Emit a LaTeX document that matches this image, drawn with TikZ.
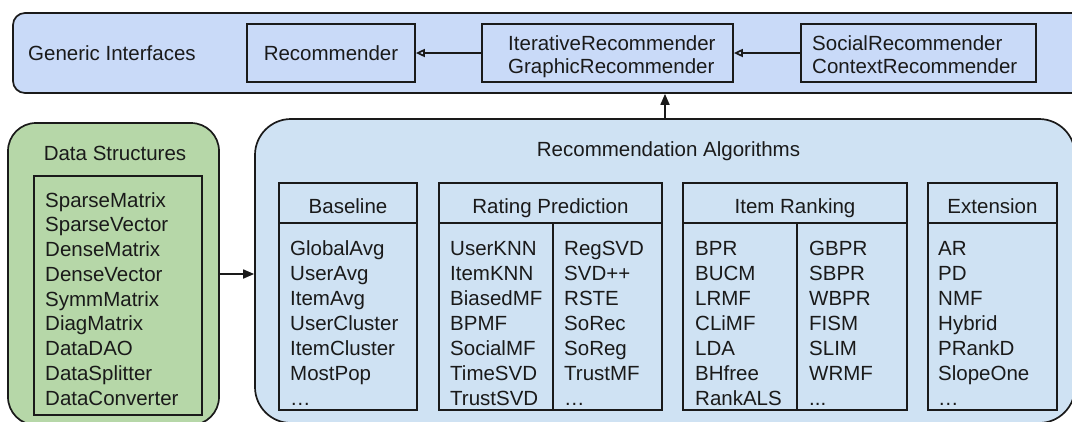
\documentclass[tikz,border=0pt]{standalone}
\usepackage{fontspec}
\setmainfont{Liberation Sans}
\usetikzlibrary{arrows.meta,calc}
\definecolor{gibg}{HTML}{C9DAF8}
\definecolor{rabg}{HTML}{CFE2F3}
\definecolor{dsbg}{HTML}{B6D7A8}
\definecolor{ink}{HTML}{1A1A1A}
\newcommand\mydots{.\kern0pt.\kern0pt.}
\begin{document}
\begin{tikzpicture}[x=1pt,y=-1pt,
  txt/.style={font=\fontsize{20.5}{23.5}\selectfont, text=ink, inner sep=0pt},
  frame/.style={draw=ink, line width=1.7pt, inner sep=0pt},
  openarr/.style={draw=ink, line width=1.7pt, -{Triangle[open,length=9pt,width=8pt]}},
  fullarr/.style={draw=ink, line width=1.7pt, -{Triangle[length=11pt,width=9pt]}},
  divline/.style={draw=ink, line width=1.7pt}
]
\clip (0,0) rectangle (1072,421);
% generic interfaces
\node[frame, fill=gibg, rounded corners=12pt, minimum width=1072pt, minimum height=80pt] (gi) at (549,53) {};
\node[txt, anchor=base west] (gilbl) at (28,60) {Generic Interfaces};
\node[frame, minimum width=168pt, minimum height=58pt] (rec) at (331,53) {};
\node[txt, anchor=base] (reclbl) at (331,60) {Recommender};
\node[frame, minimum width=251pt, minimum height=58pt] (itr) at (607.5,53) {};
\node[txt, anchor=base west] (itr1) at (508,50) {IterativeRecommender};
\node[txt, anchor=base west] (itr2) at (508,73) {GraphicRecommender};
\node[frame, minimum width=235pt, minimum height=58pt] (soc) at (918.5,53) {};
\node[txt, anchor=base west] (soc1) at (812,50) {SocialRecommender};
\node[txt, anchor=base west] (soc2) at (812,73) {ContextRecommender};
\draw[openarr] (itr.west) -- (rec.east);
\draw[openarr] (soc.west) -- (itr.east);
% data structures
\node[frame, fill=dsbg, rounded corners=28pt, minimum width=211pt, minimum height=302pt] (ds) at (113.5,274) {};
\node[txt, anchor=base] (dslbl) at (115,160) {Data Structures};
\node[frame, minimum width=168pt, minimum height=239pt] (dsin) at (118,295.5) {};
\foreach \t [count=\i from 0] in {SparseMatrix,SparseVector,DenseMatrix,DenseVector,SymmMatrix,DiagMatrix,DataDAO,DataSplitter,DataConverter}
  \node[txt, anchor=base west] (ds\i) at (45,{207+24.75*\i}) {\t};
% recommendation algorithms
\node[frame, fill=rabg, rounded corners=36pt, minimum width=820pt, minimum height=304pt] (ra) at (665,271) {};
\node[txt, anchor=base] (ralbl) at (668.5,156) {Recommendation Algorithms};
\draw[fullarr] (ds.east) -- (ds.east -| ra.west);
\draw[fullarr] (ra.north) -- (ra.north |- gi.south);
% Baseline
\node[frame, minimum width=138pt, minimum height=40pt] (blh) at (348,203) {};
\node[frame, minimum width=138pt, minimum height=187pt] (blb) at (348,316.5) {};
\node[txt, anchor=base] (blt) at (348,213) {Baseline};
\foreach \t [count=\i from 0] in {GlobalAvg,UserAvg,ItemAvg,UserCluster,ItemCluster,MostPop,\ldots}
  \node[txt, anchor=base west] (bl\i) at (290,{255+25*\i}) {\t};
% Rating prediction
\node[frame, minimum width=223pt, minimum height=40pt] (rph) at (550.5,203) {};
\node[frame, minimum width=223pt, minimum height=187pt] (rpb) at (550.5,316.5) {};
\node[txt, anchor=base] (rpt) at (550.5,213) {Rating Prediction};
\coordinate (rpd) at (553,223);
\draw[divline] (rpd) -- (rpd |- rpb.south);
\foreach \t [count=\i from 0] in {UserKNN,ItemKNN,BiasedMF,BPMF,SocialMF,TimeSVD,TrustSVD}
  \node[txt, anchor=base west] (rpa\i) at (450,{255+25*\i}) {\t};
\foreach \t [count=\i from 0] in {RegSVD,SVD++,RSTE,SoRec,SoReg,TrustMF,\ldots}
  \node[txt, anchor=base west] (rpc\i) at (564,{255+25*\i}) {\t};
% Item ranking
\node[frame, minimum width=224pt, minimum height=40pt] (irh) at (795,203) {};
\node[frame, minimum width=224pt, minimum height=187pt] (irb) at (795,316.5) {};
\node[txt, anchor=base] (irt) at (795,213) {Item Ranking};
\coordinate (ird) at (797,223);
\draw[divline] (ird) -- (ird |- irb.south);
\foreach \t [count=\i from 0] in {BPR,BUCM,LRMF,CLiMF,LDA,BHfree,RankALS}
  \node[txt, anchor=base west] (ira\i) at (695,{255+25*\i}) {\t};
\foreach \t [count=\i from 0] in {GBPR,SBPR,WBPR,FISM,SLIM,WRMF,\mydots}
  \node[txt, anchor=base west] (irc\i) at (809,{255+25*\i}) {\t};
% Extension
\node[frame, minimum width=129pt, minimum height=40pt] (exh) at (992.5,203) {};
\node[frame, minimum width=129pt, minimum height=187pt] (exb) at (992.5,316.5) {};
\node[txt, anchor=base] (ext) at (992.5,213) {Extension};
\foreach \t [count=\i from 0] in {AR,PD,NMF,Hybrid,PRankD,SlopeOne,\ldots}
  \node[txt, anchor=base west] (ex\i) at (938,{255+25*\i}) {\t};
\end{tikzpicture}
\end{document}
